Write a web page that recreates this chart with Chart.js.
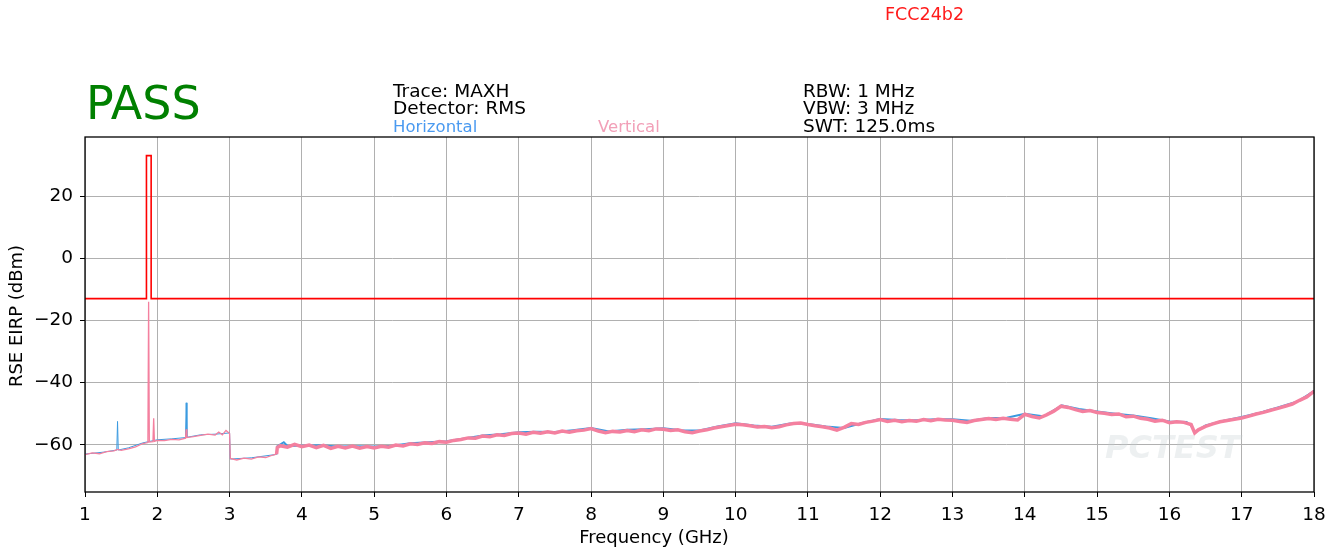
<!DOCTYPE html>
<html>
<head>
<meta charset="utf-8">
<script src="https://cdn.jsdelivr.net/npm/chart.js@4/dist/chart.umd.min.js"></script>
<style>
  html, body { margin: 0; padding: 0; background: #fff; }
  #wrap { width: 1338px; height: 553px; position: relative; }
</style>
</head>
<body>
<div id="wrap"><canvas id="chart"></canvas></div>
<script>
// limit line (dBm) vs frequency (GHz)
const limit_freq = [1, 1.85, 1.85, 1.915, 1.915, 18];
const limit_dbm = [-13, -13, 33, 33, -13, -13];

// vertical polarisation trace
const vert_freq = [1.0, 1.1, 1.2, 1.3, 1.4, 1.45, 1.5, 1.6, 1.7, 1.8, 1.87, 1.88, 1.89, 1.94, 1.95, 1.96,
  2.0, 2.1, 2.2, 2.3, 2.39, 2.4, 2.41, 2.5, 2.6, 2.7, 2.8, 2.85, 2.9, 2.95, 3.0,
  3.01, 3.1, 3.2, 3.3, 3.4, 3.5, 3.6, 3.65, 3.66, 3.7, 3.8, 3.9,
  4.0, 4.1, 4.2, 4.3, 4.4, 4.5, 4.6, 4.7, 4.8, 4.9,
  5.0, 5.1, 5.2, 5.3, 5.4, 5.5, 5.6, 5.7, 5.8, 5.9,
  6.0, 6.1, 6.2, 6.3, 6.4, 6.5, 6.6, 6.7, 6.8, 6.9,
  7.0, 7.1, 7.2, 7.3, 7.4, 7.5, 7.6, 7.7, 7.8, 7.9,
  8.0, 8.1, 8.2, 8.3, 8.4, 8.5, 8.6, 8.7, 8.8, 8.9,
  9.0, 9.1, 9.2, 9.3, 9.4, 9.5, 9.6, 9.7, 9.8, 9.9,
  10.0, 10.1, 10.2, 10.3, 10.4, 10.5, 10.6, 10.7, 10.8, 10.9,
  11.0, 11.1, 11.2, 11.3, 11.4, 11.5, 11.6, 11.7, 11.8, 11.9,
  12.0, 12.1, 12.2, 12.3, 12.4, 12.5, 12.6, 12.7, 12.8, 12.9,
  13.0, 13.1, 13.2, 13.3, 13.4, 13.5, 13.6, 13.7, 13.8, 13.9,
  14.0, 14.1, 14.2, 14.3, 14.4, 14.5, 14.6, 14.7, 14.8, 14.9,
  15.0, 15.1, 15.2, 15.3, 15.4, 15.5, 15.6, 15.7, 15.8, 15.9,
  16.0, 16.1, 16.2, 16.3, 16.35, 16.4, 16.5, 16.6, 16.7, 16.8, 16.9,
  17.0, 17.1, 17.2, 17.3, 17.4, 17.5, 17.6, 17.7, 17.8, 17.9, 18.0];
const vert_dbm = [-63.2, -62.6, -62.9, -62.2, -62.0, -61.5, -61.8, -61.3, -60.7, -59.6, -59.3, -14.0, -59.1, -59.0, -51.5, -58.9,
  -58.6, -58.7, -58.3, -58.4, -57.9, -55.0, -57.7, -57.4, -57.0, -56.6, -56.9, -55.9, -56.8, -55.4, -56.4,
  -64.4, -64.9, -64.3, -64.6, -63.9, -64.1, -63.3, -63.0, -60.9, -60.3, -60.8, -59.9,
  -60.6, -60.1, -60.9, -60.2, -61.2, -60.5, -61.0, -60.4, -61.1, -60.6,
  -61.0, -60.5, -60.8, -60.1, -60.4, -59.7, -59.9, -59.4, -59.6, -59.0,
  -59.2, -58.6, -58.3, -57.8, -57.9, -57.2, -57.4, -56.8, -57.0, -56.4,
  -56.2, -56.6, -56.0, -56.3, -55.8, -56.2, -55.6, -56.0, -55.5, -55.3,
  -54.8, -55.6, -56.1, -55.7, -55.9, -55.4, -55.8, -55.2, -55.5, -54.9,
  -55.0, -55.4, -55.2, -55.8, -56.1, -55.6, -55.2, -54.6, -54.2, -53.8,
  -53.4, -53.6, -53.9, -54.3, -54.1, -54.5, -54.2, -53.6, -53.2, -53.0,
  -53.5, -53.9, -54.2, -54.6, -55.3, -54.4, -53.2, -53.5, -52.8, -52.4,
  -51.9, -52.5, -52.1, -52.6, -52.2, -52.4, -51.9, -52.3, -51.8, -52.0,
  -52.1, -52.5, -52.8, -52.2, -51.9, -51.6, -51.9, -51.5, -51.8, -52.0,
  -50.2, -50.9, -51.4, -50.4, -49.2, -47.6, -48.0, -48.7, -49.3, -49.0,
  -49.6, -49.9, -50.3, -50.1, -51.0, -50.8, -51.5, -51.8, -52.4, -52.1,
  -52.9, -52.6, -52.8, -53.5, -56.2, -55.2, -54.1, -53.3, -52.6, -52.2, -51.8,
  -51.4, -50.8, -50.1, -49.6, -48.9, -48.3, -47.6, -46.9, -45.7, -44.6, -42.8];

// horizontal polarisation trace
const horiz_freq = [1.0, 1.25, 1.44, 1.45, 1.46, 1.6, 1.8, 2.0, 2.2, 2.39, 2.4, 2.41, 2.6, 2.8, 3.0,
  3.01, 3.3, 3.65, 3.66, 3.75, 3.8, 4.25, 4.5, 4.75, 5.0, 5.25, 5.5, 5.75, 6.0, 6.25, 6.5, 6.75,
  7.0, 7.25, 7.5, 7.75, 8.0, 8.25, 8.5, 8.75, 9.0, 9.25, 9.5, 9.75, 10.0, 10.25, 10.5, 10.75,
  11.0, 11.25, 11.5, 11.75, 12.0, 12.25, 12.5, 12.75, 13.0, 13.25, 13.5, 13.75, 14.0, 14.25,
  14.5, 14.75, 15.0, 15.25, 15.5, 15.75, 16.0, 16.25, 16.35, 16.5, 16.75, 17.0, 17.25, 17.5, 17.75, 18.0];
const horiz_dbm = [-63.0, -62.4, -61.7, -52.5, -61.7, -61.0, -59.4, -58.4, -58.1, -57.7, -46.5, -57.6, -56.8, -56.6, -56.2,
  -64.6, -64.2, -63.1, -60.5, -59.2, -60.4, -60.2, -60.6, -60.5, -60.6, -60.3, -59.5, -59.2, -58.9, -58.0, -57.0, -56.6,
  -56.0, -55.8, -55.9, -55.3, -54.6, -55.7, -55.2, -55.0, -54.7, -55.3, -55.4, -54.1, -53.1, -53.8, -54.2, -53.2,
  -53.3, -54.1, -54.6, -53.0, -51.7, -52.0, -52.1, -51.8, -51.8, -52.3, -51.4, -51.3, -50.0, -50.8,
  -47.3, -48.5, -49.3, -50.0, -50.6, -51.5, -52.5, -52.7, -55.9, -53.8, -52.3, -51.1, -49.7, -48.0, -46.2, -42.5];

const x_range = [1, 18];
const y_range = [-75.2, 39];

const FONT = "'DejaVu Sans', sans-serif";

function pairs(xs, ys) {
  return xs.map((x, i) => ({ x: x, y: ys[i] }));
}

// below 3.65 GHz and at spikes/steps the trace is thin, the noisy floor above is thick
function traceWidth(thin, thick) {
  return ctx => {
    if (ctx.p0.parsed.x < 3.65) return thin;
    return Math.abs(ctx.p1.parsed.y - ctx.p0.parsed.y) > 3 ? thin : thick;
  };
}

const header_plugin = {
  id: "header",
  afterDraw(chart) {
    const c = chart.ctx, a = chart.chartArea;
    c.save();
    c.strokeStyle = "#000";
    c.lineWidth = 1.3;
    c.strokeRect(a.left, a.top, a.right - a.left, a.bottom - a.top);

    c.textBaseline = "middle";
    c.textAlign = "left";
    c.fillStyle = "#ff1a1a";
    c.font = "17.5px " + FONT;
    c.fillText("FCC24b2", 885, 15);

    c.fillStyle = "#008000";
    c.font = "46px " + FONT;
    c.fillText("PASS", 86, 107);

    c.fillStyle = "#000";
    c.font = "18.5px " + FONT;
    c.fillText("Trace: MAXH", 393, 92);
    c.fillText("Detector: RMS", 393, 109);
    c.fillText("RBW: 1 MHz", 803, 92);
    c.fillText("VBW: 3 MHz", 803, 109);
    c.fillText("SWT: 125.0ms", 803, 127);

    c.font = "16.5px " + FONT;
    c.fillStyle = "#4a9af0";
    c.fillText("Horizontal", 393, 128);
    c.fillStyle = "#f2a0b8";
    c.fillText("Vertical", 598, 128);

    c.fillStyle = "#000";
    c.font = "18px " + FONT;
    c.textAlign = "center";
    c.fillText("Frequency (GHz)", 654, 538);
    c.translate(17, 316);
    c.rotate(-Math.PI / 2);
    c.fillText("RSE EIRP (dBm)", 0, 0);
    c.restore();

    c.save();
    c.fillStyle = "rgba(195, 205, 210, 0.3)";
    c.font = "italic bold 32px " + FONT;
    c.textAlign = "left";
    c.textBaseline = "middle";
    c.fillText("PCTEST", 1105, 450);
    c.restore();
  },
};

const minus = v => String(v).replace("-", "\u2212");

new Chart(document.getElementById("chart"), {
  type: "line",
  data: {
    datasets: [{
      label: "Limit",
      order: 0,
      data: pairs(limit_freq, limit_dbm),
      borderColor: "#ff0000",
      borderWidth: 1.6,
      pointRadius: 0,
      tension: 0,
    }, {
      label: "Vertical",
      order: 1,
      data: pairs(vert_freq, vert_dbm),
      borderColor: "#f4809f",
      borderWidth: 3.5,
      segment: { borderWidth: traceWidth(1.3, 3.5) },
      pointRadius: 0,
      tension: 0,
    }, {
      label: "Horizontal",
      order: 2,
      data: pairs(horiz_freq, horiz_dbm),
      borderColor: "#3a9ae0",
      borderWidth: 2,
      segment: { borderWidth: traceWidth(1, 2) },
      pointRadius: 0,
      tension: 0,
    }],
  },
  options: {
    responsive: true,
    maintainAspectRatio: false,
    animation: false,
    layout: { padding: { left: 0, right: 24, top: 137, bottom: 0 } },
    plugins: { legend: { display: false }, tooltip: { enabled: false } },
    scales: {
      x: {
        type: "linear",
        min: x_range[0],
        max: x_range[1],
        afterFit: s => { s.height = 61; },
        grid: { color: "#b0b0b0", lineWidth: 1, tickColor: "#000", tickLength: 5 },
        border: { display: false },
        ticks: { stepSize: 1, padding: 7, color: "#000", font: { family: FONT, size: 18.5 }, maxRotation: 0 },
      },
      y: {
        min: y_range[0],
        max: y_range[1],
        afterFit: s => { s.width = 85; },
        afterBuildTicks: s => { s.ticks = s.ticks.filter(t => t.value % 20 === 0); },
        grid: { color: "#b0b0b0", lineWidth: 1, tickColor: "#000", tickLength: 5 },
        border: { display: false },
        ticks: { stepSize: 20, padding: 7, color: "#000", font: { family: FONT, size: 18.5 }, callback: minus },
      },
    },
  },
  plugins: [header_plugin],
});
</script>
</body>
</html>
